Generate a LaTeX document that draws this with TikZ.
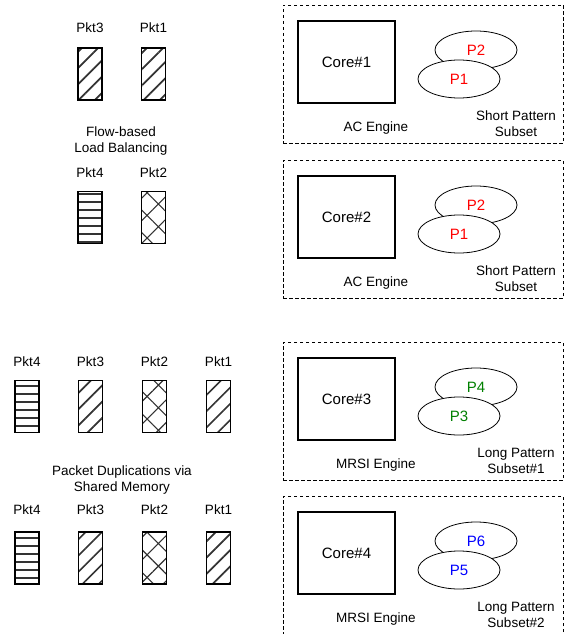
\documentclass[tikz,border=0pt]{standalone}
\usepackage{fontspec}
\setmainfont{Liberation Sans}
\usetikzlibrary{patterns.meta,shapes.geometric}

\begin{document}
\begin{tikzpicture}[x=1pt, y=-1pt, every node/.style={font=\fontsize{13.5}{16}\selectfont, inner sep=0pt, align=center},
	pkt/.style={draw, line width=1.1pt, minimum width=24, minimum height=52, pattern color=black!80},
	diag/.style={pkt, pattern={Lines[angle=45, distance=11.5pt, line width=1.7pt]}},
	horiz/.style={pkt, pattern={Lines[angle=0, distance=8pt, line width=1.3pt]}},
	cross/.style={pkt, pattern={Hatch[angle=45, distance=16pt, line width=1.1pt]}},
	engbox/.style={draw, dash pattern=on 3.5pt off 2.5pt, line width=0.8pt, minimum width=280, minimum height=138},
	corebox/.style={draw, line width=1.8pt, minimum width=97, minimum height=82, font=\fontsize{15}{17}\selectfont},
	pat/.style={draw, fill=white, ellipse, line width=0.8pt, minimum width=82, minimum height=38}]
	\useasboundingbox (0,0) rectangle (568,634);
	% flow-based load balancing
	\foreach \k/\x/\s in {3/90/diag, 1/153.5/diag} {
		\node[\s] (lbA\k) at (\x,74) {};
		\node (lblA\k) at (\x,28) {Pkt\k};
	}
	\foreach \k/\x/\s in {4/90/horiz, 2/153.5/cross} {
		\node[\s] (lbB\k) at (\x,217.5) {};
		\node (lblB\k) at (\x,173) {Pkt\k};
	}
	\node (flow) at (121,141.5) {Flow-based\\Load Balancing};
	% packet duplications
	\foreach \k/\x/\s in {4/27/horiz, 3/90.5/diag, 2/154.5/cross, 1/218.5/diag} {
		\node[\s] (dupA\k) at (\x,406.5) {};
		\node (lbldA\k) at (\x,362) {Pkt\k};
		\node[\s] (dupB\k) at (\x,558) {};
		\node (lbldB\k) at (\x,510) {Pkt\k};
	}
	\node (dup) at (122,480.5) {Packet Duplications via\\Shared Memory};
	% engines
	\foreach \n/\t/\eng/\subs/\col/\pa/\pb in {1/5/AC Engine/Short Pattern\\Subset/red/P2/P1,
		2/160/AC Engine/Short Pattern\\Subset/red/P2/P1,
		3/342/MRSI Engine/Long Pattern\\Subset\#1/green!50!black/P4/P3,
		4/496/MRSI Engine/Long Pattern\\Subset\#2/blue/P6/P5} {
		\node[engbox] (box\n) at (423,\t+69) {};
		\node[corebox] (core\n) at (346.5,\t+57) {Core\#\n};
		\node[pat] (pa\n) at (476,\t+45) {};
		\node[pat] (pb\n) at (459,\t+74) {};
		\node[text=\col, font=\fontsize{15}{17}\selectfont] (tpa\n) at (pa\n.center) {\pa};
		\node[text=\col, font=\fontsize{15}{17}\selectfont] (tpb\n) at (pb\n.center) {\pb};
		\node (eng\n) at (376,\t+123) {\eng};
		\node (sub\n) at (516,\t+119) {\subs};
	}
\end{tikzpicture}
\end{document}
